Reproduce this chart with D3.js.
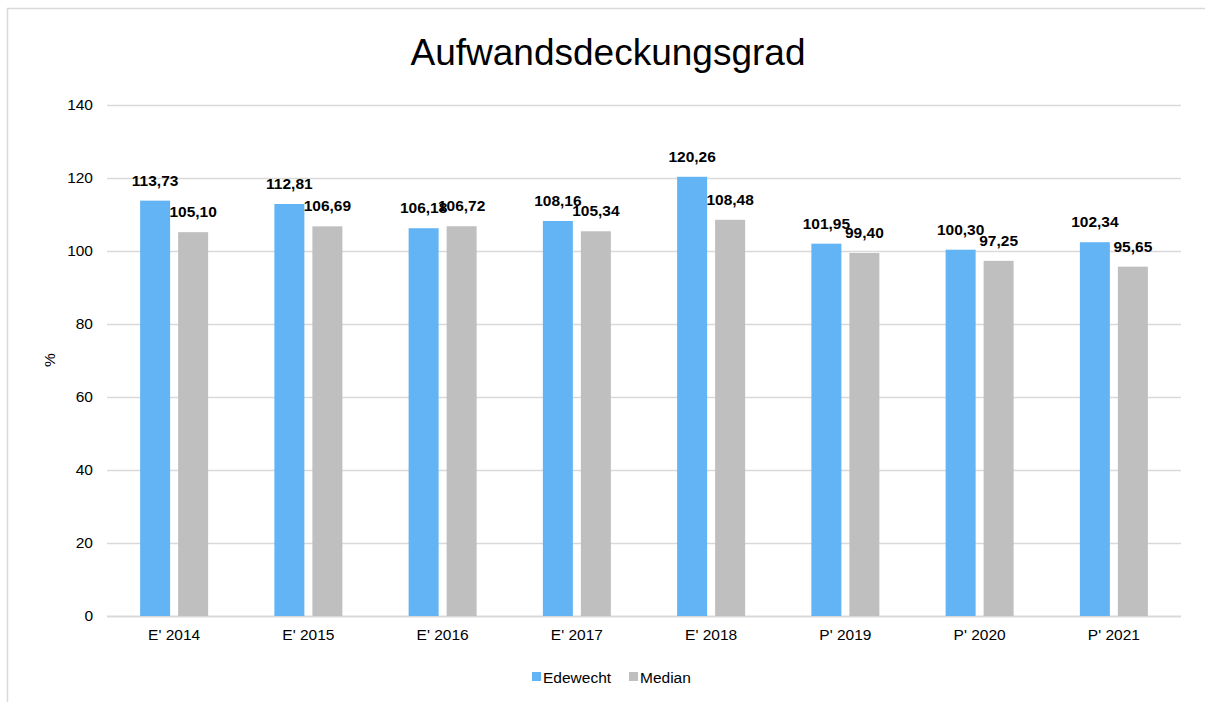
<!DOCTYPE html>
<html><head><meta charset="utf-8">
<script src="https://cdn.jsdelivr.net/npm/d3@7"></script>
<style>body{margin:0;background:#fff;overflow:hidden}svg{display:block;font-family:"Liberation Sans",Arial,sans-serif}</style>
</head><body><svg id="c" width="1205" height="702"></svg>
<script>
const categories = ["E' 2014","E' 2015","E' 2016","E' 2017","E' 2018","P' 2019","P' 2020","P' 2021"];
const edewecht = [113.73,112.81,106.18,108.16,120.26,101.95,100.30,102.34];
const median = [105.10,106.69,106.72,105.34,108.48,99.40,97.25,95.65];
const seriesNames = ["Edewecht","Median"];
const seriesColors = ["#63B4F5","#BFBFBF"];
const yTicks = [0,20,40,60,80,100,120,140];

const svg = d3.select("#c");
svg.append("rect").attr("x",7.5).attr("y",8.5).attr("width",1260).attr("height",760)
  .attr("fill","#fff").attr("stroke","#D9D9D9").attr("stroke-width",1.5);

const x0 = d3.scaleBand().domain(categories).range([107,1181]);
const y = d3.scaleLinear().domain([0,140]).range([616,104.7]);
const bw = 30, gap = 8;
const fs = 15.5;

svg.append("text").attr("x",608).attr("y",65).attr("text-anchor","middle")
  .attr("font-size",37).attr("fill","#000").text("Aufwandsdeckungsgrad");

const grid = svg.append("g");
yTicks.forEach(t=>{
  grid.append("line").attr("x1",107).attr("x2",1181).attr("y1",Math.round(y(t))+0.5).attr("y2",Math.round(y(t))+0.5)
    .attr("stroke","#D9D9D9").attr("stroke-width",t===0?2:1.3);
});

const yAxis = d3.axisLeft(y).tickValues(yTicks).tickSize(0).tickPadding(14).tickFormat(d3.format("d"));
const ga = svg.append("g").attr("transform","translate(107,0)").call(yAxis);
ga.select(".domain").remove();
ga.selectAll("text").attr("font-size",fs).attr("fill","#000").attr("font-family","Liberation Sans, Arial, sans-serif");

const xAxis = d3.axisBottom(x0).tickSize(0).tickPadding(12);
const gx = svg.append("g").attr("transform","translate(0,617)").call(xAxis);
gx.select(".domain").remove();
gx.selectAll("text").attr("font-size",fs).attr("fill","#000").attr("font-family","Liberation Sans, Arial, sans-serif");

svg.append("text").attr("transform","translate(55,360) rotate(-90)").attr("text-anchor","middle")
  .attr("font-size",fs).attr("fill","#000").text("%");

const fmt = v => d3.format(".2f")(v).replace(".",",");
const allSeries = [edewecht, median];
allSeries.forEach((vals,si)=>{
  const off = si===0 ? -gap/2-bw : gap/2;
  svg.append("g").selectAll("rect").data(vals).join("rect")
    .attr("x",(d,i)=>x0(categories[i])+x0.bandwidth()/2+off)
    .attr("y",d=>y(d)).attr("width",bw).attr("height",d=>y(0)-y(d))
    .attr("fill",seriesColors[si]);
});
allSeries.forEach((vals,si)=>{
  const off = si===0 ? -gap/2-bw/2 : gap/2+bw/2;
  svg.append("g").selectAll("text").data(vals).join("text")
    .attr("x",(d,i)=>x0(categories[i])+x0.bandwidth()/2+off)
    .attr("y",d=>y(d)-15).attr("text-anchor","middle")
    .attr("font-size",fs).attr("font-weight","bold").attr("fill","#000").text(fmt);
});

const leg = svg.append("g");
const legX = [532,629];
seriesNames.forEach((n,i)=>{
  leg.append("rect").attr("x",legX[i]).attr("y",672).attr("width",9).attr("height",9).attr("fill",seriesColors[i]);
  leg.append("text").attr("x",legX[i]+11).attr("y",682.5).attr("font-size",fs).attr("fill","#000").text(n);
});
</script></body></html>
